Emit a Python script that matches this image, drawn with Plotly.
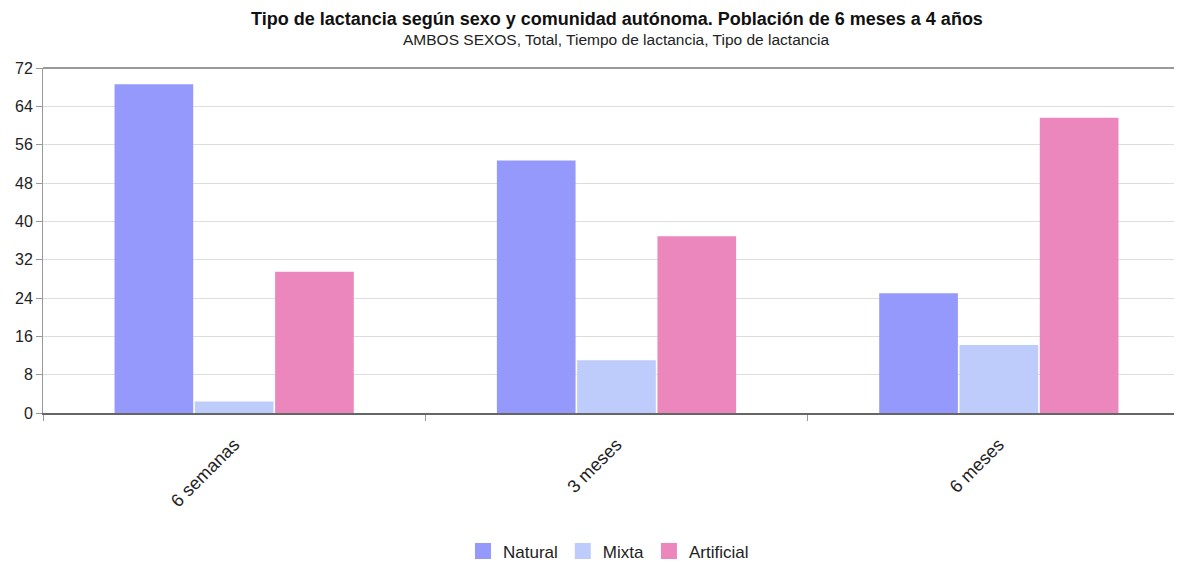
import plotly.graph_objects as go

categories = ["6 semanas", "3 meses", "6 meses"]
series_names = ["Natural", "Mixta", "Artificial"]
natural = [68.6, 52.7, 25.0]
mixta = [2.4, 11.0, 14.2]
artificial = [29.5, 36.9, 61.6]
y_ticks = [0, 8, 16, 24, 32, 40, 48, 56, 64, 72]
colors = ["#9499FB", "#BDCCFB", "#EC87BE"]

fig = go.Figure()
for name, vals, col in zip(series_names, [natural, mixta, artificial], colors):
    fig.add_trace(go.Bar(name=name, x=categories, y=vals, marker=dict(color=col, line=dict(width=0)),
                         showlegend=False, legendgroup=name))
# legend entries with larger square swatches
for name, col in zip(series_names, colors):
    fig.add_trace(go.Scatter(name=name, x=[None], y=[None], mode="markers",
                             marker=dict(symbol="square", size=17, color=col),
                             legendgroup=name, showlegend=True))

fig.update_layout(
    width=1182, height=563,
    paper_bgcolor="white", plot_bgcolor="white",
    font=dict(family="Liberation Sans, Arial, sans-serif", size=12, color="#222"),
    margin=dict(l=35, r=0, t=60, b=158),
    barmode="group", bargap=0.37, bargroupgap=0.02,
    legend=dict(orientation="h", x=0.493, xanchor="center", y=-0.349, yanchor="top",
                font=dict(size=17, color="#222"), traceorder="normal",
                itemsizing="trace", itemwidth=30, tracegroupgap=0),
    showlegend=True,
)
fig.add_annotation(text="<b>Tipo de lactancia según sexo y comunidad autónoma. Población de 6 meses a 4 años</b>",
                   xref="paper", yref="paper", x=0.5, xanchor="center", y=1.0, yanchor="middle",
                   yshift=49, showarrow=False, font=dict(size=18, color="#111"))
fig.add_annotation(text="AMBOS SEXOS, Total, Tiempo de lactancia, Tipo de lactancia",
                   xref="paper", yref="paper", x=0.5, xanchor="center", y=1.0, yanchor="middle",
                   yshift=29, showarrow=False, font=dict(size=15.5, color="#222"))
fig.update_xaxes(
    automargin=False,
    showline=True, linecolor="#666", linewidth=2,
    ticks="outside", tickson="boundaries", ticklen=6, tickcolor="#999",
    tickangle=-45, tickfont=dict(size=18, color="#222"), ticklabelstandoff=12,
    showgrid=False,
)
fig.update_yaxes(
    automargin=False,
    range=[0, 72], tickvals=y_ticks, ticktext=[str(v) for v in y_ticks],
    showline=True, linecolor="#999", linewidth=1,
    ticks="outside", ticklen=6, tickcolor="#999",
    gridcolor="#DDDDDD", gridwidth=1,
    tickfont=dict(size=16, color="#222"), zeroline=False,
)
fig.add_shape(type="line", xref="paper", yref="paper", x0=0, x1=1, y0=1, y1=1,
              line=dict(color="#999", width=2))
fig.write_html("out.html")
